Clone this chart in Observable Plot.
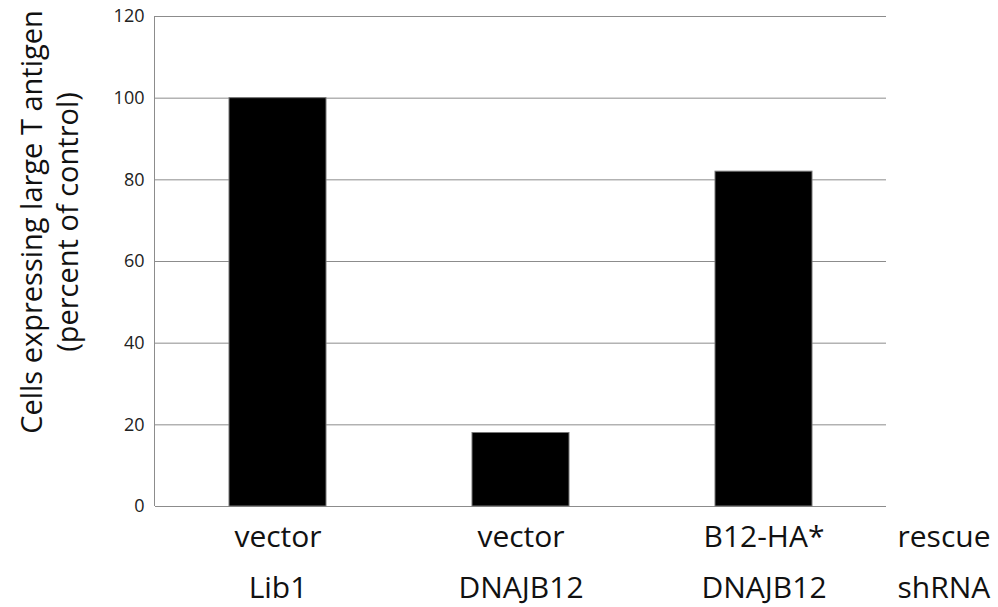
<!DOCTYPE html>
<html>
<head>
<meta charset="utf-8">
<script src="https://cdn.jsdelivr.net/npm/d3@7"></script>
<script src="https://cdn.jsdelivr.net/npm/@observablehq/plot@0.6"></script>
<style>
  html, body { margin: 0; padding: 0; background: white; }
  #chart { width: 998px; height: 607px; }
</style>
</head>
<body>
<div id="chart"></div>
<script>
const rescue = ["vector", "vector", "B12-HA*"];
const shRNA = ["Lib1", "DNAJB12", "DNAJB12"];
const values = [100, 18, 82];
const rowLabels = ["rescue", "shRNA"];
const yTicks = [0, 20, 40, 60, 80, 100, 120];
const yLabelLines = ["Cells expressing large T antigen", "(percent of control)"];

const data = values.map((v, i) => ({key: i + ":" + rescue[i] + "/" + shRNA[i], rescue: rescue[i], shRNA: shRNA[i], value: v}));
const keys = data.map(d => d.key);

const labelFont = 30;

const chart = Plot.plot({
  width: 998,
  height: 607,
  marginTop: 16,
  marginBottom: 101,
  marginLeft: 155,
  marginRight: 112,
  style: {fontFamily: "'Open Sans', sans-serif", fontSize: "18px", color: "#222", background: "white", overflow: "visible"},
  x: {domain: keys, paddingInner: 0.6, paddingOuter: 0.3, axis: null},
  y: {domain: [0, 120]},
  marks: [
    Plot.ruleY(yTicks, {stroke: "#8c8c8c", strokeWidth: 1}),
    Plot.barY(data, {x: "key", y: "value", fill: "black", stroke: "#777", strokeWidth: 1}),
    Plot.axisY({ticks: yTicks, tickSize: 0, tickPadding: 11, fontSize: 18, fill: "#222", label: null, tickFormat: d3.format("d")}),
    Plot.text(data, {x: "key", text: "rescue", frameAnchor: "bottom", lineAnchor: "bottom", dy: 40, fontSize: labelFont, fill: "#111"}),
    Plot.text(data, {x: "key", text: "shRNA", frameAnchor: "bottom", lineAnchor: "bottom", dy: 91, fontSize: labelFont, fill: "#111"}),
    Plot.text([rowLabels[0]], {text: d => d, frameAnchor: "bottom-right", lineAnchor: "bottom", dx: 11, dy: 40, textAnchor: "start", fontSize: labelFont, fill: "#111"}),
    Plot.text([rowLabels[1]], {text: d => d, frameAnchor: "bottom-right", lineAnchor: "bottom", dx: 11, dy: 91, textAnchor: "start", fontSize: labelFont, fill: "#111"})
  ]
});

document.getElementById("chart").appendChild(chart);

const svg = d3.select(chart);
const xr = chart.scale("x").range;
const yr = chart.scale("y").range;
// left axis line
svg.append("line")
  .attr("x1", xr[0] - 0.5).attr("x2", xr[0] - 0.5)
  .attr("y1", yr[0]).attr("y2", yr[1])
  .attr("stroke", "#8c8c8c").attr("stroke-width", 1);

// y axis label (two lines, rotated)
const yl = svg.append("text")
  .attr("transform", "translate(42,222) rotate(-90)")
  .attr("text-anchor", "middle")
  .attr("font-family", "'Open Sans', sans-serif")
  .attr("font-size", 29)
  .attr("fill", "#111");
yl.append("tspan").attr("x", 0).attr("y", 0).text(yLabelLines[0]);
yl.append("tspan").attr("x", 0).attr("y", 36).text(yLabelLines[1]);
</script>
</body>
</html>
